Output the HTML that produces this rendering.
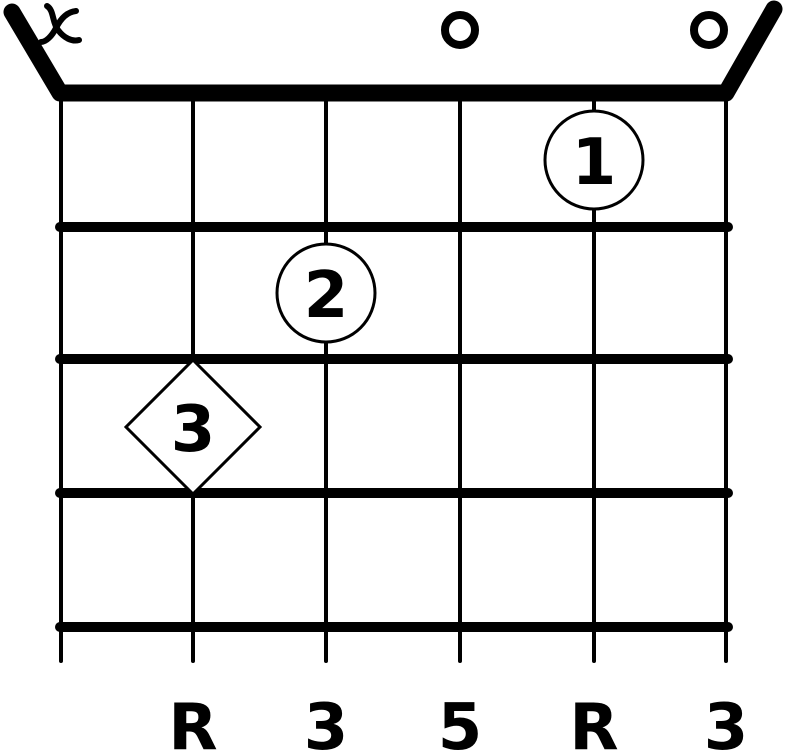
<!DOCTYPE html>
<html><head><style>html,body{margin:0;padding:0;background:#fff;overflow:hidden}</style></head>
<body>
<svg width="787" height="751" viewBox="0 0 787 751" xmlns="http://www.w3.org/2000/svg">
<g stroke="#000" stroke-linecap="round" fill="none">
<g stroke-width="4">
<line x1="61" y1="93" x2="61" y2="661"/>
<line x1="193" y1="93" x2="193" y2="661"/>
<line x1="326" y1="93" x2="326" y2="661"/>
<line x1="460" y1="93" x2="460" y2="661"/>
<line x1="594" y1="93" x2="594" y2="661"/>
<line x1="726" y1="93" x2="726" y2="661"/>
</g>
<g stroke-width="10">
<line x1="60" y1="227" x2="728" y2="227"/>
<line x1="60" y1="359" x2="728" y2="359"/>
<line x1="60" y1="493" x2="728" y2="493"/>
<line x1="60" y1="627" x2="728" y2="627"/>
</g>
<polyline points="12,12 60,93 726,93 774,9" stroke-width="17" stroke-linejoin="round"/>
<circle cx="460" cy="30" r="15" stroke-width="8"/>
<circle cx="709" cy="30" r="15" stroke-width="8"/>
<circle cx="594" cy="160" r="49" stroke-width="3" fill="#fff"/>
<circle cx="326" cy="293" r="49" stroke-width="3" fill="#fff"/>
<polygon points="193,360 260,427 193,494 126,427" stroke-width="3" fill="#fff" stroke-linejoin="miter"/>
<path d="M47,6 C54,10 52,22 58,30 C64,38 72,42 79,40" stroke-width="6"/>
<path d="M76,11 C66,12 60,20 56,28 C52,36 46,42 41,42" stroke-width="6"/>
</g>
<g font-family="'DejaVu Sans','Liberation Sans',sans-serif" font-weight="bold" font-size="64" text-anchor="middle" fill="#000">
<text x="594" y="184">1</text>
<text x="326" y="317">2</text>
<text x="193" y="451">3</text>
<text x="193" y="749">R</text>
<text x="326" y="749">3</text>
<text x="460" y="749">5</text>
<text x="594" y="749">R</text>
<text x="726" y="749">3</text>
</g>
</svg>
</body></html>
